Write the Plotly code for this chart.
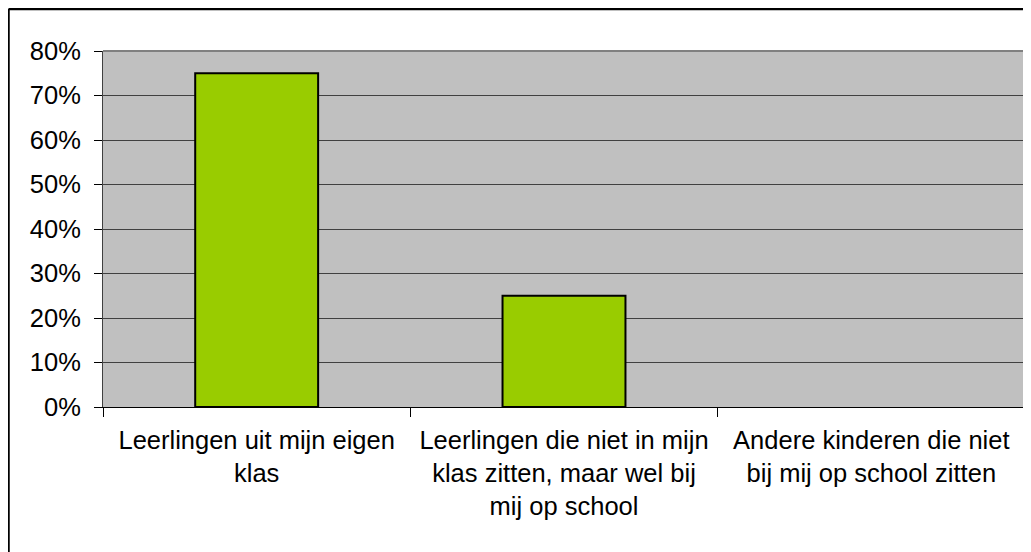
import plotly.graph_objects as go

categories = [
    "Leerlingen uit mijn eigen<br>klas",
    "Leerlingen die niet in mijn<br>klas zitten, maar wel bij<br>mij op school",
    "Andere kinderen die niet<br>bij mij op school zitten",
]
values = [0.75, 0.25, 0.0]
y_ticks = [0, 0.1, 0.2, 0.3, 0.4, 0.5, 0.6, 0.7, 0.8]

FONT = "Liberation Sans, Arial, sans-serif"

fig = go.Figure()
fig.add_trace(go.Bar(
    x=categories,
    y=values,
    marker=dict(color="#99CC00",
                line=dict(color="#000000", width=[2 if v > 0 else 0 for v in values])),
    hoverinfo="skip",
))

fig.update_layout(
    width=1023,
    height=544,
    margin=dict(l=95, r=6, t=43, b=145),
    paper_bgcolor="#FFFFFF",
    plot_bgcolor="#C0C0C0",
    bargap=0.6,
    showlegend=False,
    font=dict(family=FONT, size=25.5, color="#000000"),
    xaxis=dict(
        type="category",
        tickson="boundaries",
        ticks="outside",
        ticklen=9,
        tickwidth=1,
        tickcolor="#000000",
        showline=True,
        linecolor="#000000",
        linewidth=1,
        showgrid=False,
        tickfont=dict(family=FONT, size=25.5, color="#000000"),
        ticklabelstandoff=10,
    ),
    yaxis=dict(
        range=[0, 0.8],
        tickvals=y_ticks,
        tickformat=".0%",
        ticks="outside",
        ticklen=8,
        tickwidth=1,
        tickcolor="#000000",
        showline=True,
        linecolor="#404040",
        linewidth=1,
        showgrid=True,
        gridcolor="#404040",
        gridwidth=1,
        zeroline=False,
        tickfont=dict(family=FONT, size=25.5, color="#000000"),
        ticklabelstandoff=8,
    ),
    shapes=[
        # plot-area border (top and right)
        dict(type="line", xref="paper", yref="paper", x0=0, x1=1, y0=1, y1=1,
             line=dict(color="#808080", width=2)),
        dict(type="line", xref="paper", yref="paper", x0=1, x1=1, y0=0, y1=1,
             line=dict(color="#808080", width=2)),
        # outer chart border (left and top visible)
        dict(type="line", xref="paper", yref="paper", x0=-0.1025, x1=-0.1025, y0=1.118, y1=-0.42,
             line=dict(color="#000000", width=2.5)),
        dict(type="line", xref="paper", yref="paper", x0=-0.1025, x1=1.01, y0=1.118, y1=1.118,
             line=dict(color="#000000", width=2.5)),
    ],
)

fig.write_html("out.html")
